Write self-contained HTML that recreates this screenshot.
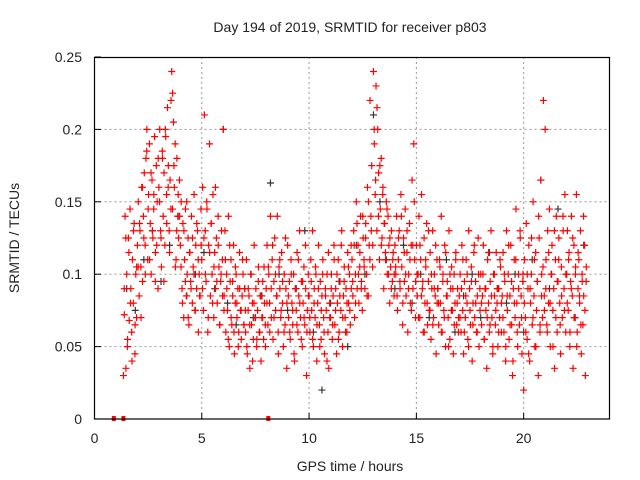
<!DOCTYPE html>
<html><head><meta charset="utf-8"><style>
body{margin:0;background:#fff;}
svg{display:block;font-family:"Liberation Sans",sans-serif;}
</style></head><body>
<svg id="chart" width="640" height="480">
<text x="350" y="32" font-size="14" text-anchor="middle" fill="#222">Day 194 of 2019, SRMTID for receiver p803</text>
<text x="350" y="471" font-size="14" text-anchor="middle" fill="#222">GPS time / hours</text>
<text transform="translate(19,238) rotate(-90)" font-size="14" text-anchor="middle" fill="#222">SRMTID / TECUs</text>
<g id="grid"></g><g id="ticks"></g><g id="marks"></g>
<rect x="94.5" y="57.5" width="515" height="361.5" fill="none" stroke="#000" stroke-width="1.2"/>
</svg>
<script>
const xTicks=[0,5,10,15,20];
const yTicks=[0,0.05,0.1,0.15,0.2,0.25];
const yTickLabels=["0","0.05","0.1","0.15","0.2","0.25"];
const redHours=[1.35,2,3,4,5,6,7,8,9,10,11,12,13,14,15,16,17,18,19,20,21,22];
const redVals=[
[.03,.072,.14,.035,.1,.055,.125,.068,.145,.09,.06,.11,.08,.135,.045,.1,.07],
[.12,.15,.085,.13,.105,.16,.095,.14,.17,.12,.18,.2,.11,.155,.19,.135,.1,.165,.125,.145,.195,.115,.175,.15,.09],
[.16,.2,.13,.105,.185,.14,.17,.12,.195,.155,.215,.175,.13,.165,.145,.24,.225,.205,.16,.19,.11,.18,.14,.125,.165],
[.12,.15,.09,.135,.07,.11,.145,.085,.1,.125,.065,.115,.095,.14,.08,.105,.155,.075,.12,.09,.13,.06,.1,.085,.145],
[.11,.16,.075,.21,.13,.095,.145,.06,.12,.19,.085,.135,.1,.155,.07,.115,.09,.125,.08,.14,.105,.065,.095,.13,.11],
[.2,.085,.13,.06,.1,.075,.14,.05,.095,.11,.065,.085,.12,.045,.08,.1,.07,.09,.06,.115,.075,.055,.085,.1,.065],
[.09,.06,.11,.045,.075,.085,.035,.1,.065,.08,.055,.12,.07,.09,.05,.075,.105,.06,.085,.04,.07,.095,.055,.08,.065],
[.09,.12,.065,.1,.08,.14,.07,.11,.055,.095,.125,.075,.085,.14,.06,.105,.09,.07,.115,.08,.05,.1,.065,.09,.035],
[.12,.07,.095,.055,.11,.08,.065,.1,.04,.09,.075,.115,.06,.085,.13,.07,.095,.05,.08,.105,.065,.09,.03,.075,.1],
[.085,.06,.11,.075,.13,.05,.09,.07,.1,.04,.08,.12,.065,.095,.055,.085,.11,.07,.045,.09,.075,.1,.06,.035,.08],
[.07,.1,.055,.085,.12,.065,.09,.045,.08,.11,.06,.095,.075,.13,.05,.085,.105,.07,.09,.06,.115,.08,.1,.065,.12],
[.11,.085,.13,.07,.1,.15,.09,.12,.08,.105,.14,.095,.075,.125,.11,.09,.135,.1,.16,.085,.12,.22,.14,.175,.105],
[.24,.19,.155,.23,.13,.2,.17,.11,.145,.18,.125,.16,.09,.135,.115,.15,.1,.14,.12,.08,.105,.13,.095,.115,.085],
[.12,.1,.14,.075,.11,.13,.09,.155,.105,.065,.125,.095,.145,.085,.115,.06,.1,.135,.08,.12,.165,.09,.19,.11,.07],
[.12,.085,.1,.14,.07,.11,.155,.09,.06,.125,.08,.105,.135,.065,.095,.075,.115,.055,.09,.13,.07,.1,.085,.045,.11],
[.09,.065,.11,.08,.14,.06,.1,.075,.12,.05,.085,.095,.07,.13,.055,.09,.105,.075,.045,.1,.08,.115,.065,.09,.06],
[.085,.1,.06,.12,.075,.045,.095,.07,.11,.08,.055,.13,.09,.065,.105,.04,.08,.115,.07,.095,.06,.085,.125,.05,.09],
[.1,.065,.085,.12,.055,.09,.075,.035,.11,.08,.06,.095,.13,.07,.045,.1,.085,.065,.115,.08,.05,.09,.07,.105,.06],
[.085,.115,.06,.095,.04,.13,.075,.1,.055,.085,.12,.065,.03,.09,.11,.07,.145,.08,.05,.1,.065,.125,.085,.045,.095],
[.02,.11,.07,.135,.055,.09,.12,.04,.08,.1,.065,.15,.085,.05,.115,.075,.095,.03,.125,.06,.165,.1,.07,.22,.085],
[.2,.11,.065,.13,.08,.145,.05,.1,.12,.075,.09,.035,.11,.14,.06,.095,.125,.08,.045,.105,.07,.13,.09,.155,.06],
[.1,.13,.075,.115,.05,.095,.14,.085,.035,.12,.07,.105,.155,.06,.09,.11,.08,.13,.045,.1,.065,.085,.12,.03,.095]
];
const redVals2=[
[.09,.125,.05,.115,.08,.04,.13,.065,.105],
[.105,.135,.07,.16,.125,.1,.185,.145,.11,.17,.13,.155,.095,.12,.18],
[.15,.125,.18,.095,.2,.135,.16,.115,.22,.145,.175,.105,.13,.155,.14],
[.105,.08,.13,.095,.15,.07,.115,.09,.125,.1,.075,.135,.11,.085,.12],
[.09,.125,.1,.15,.07,.115,.135,.08,.105,.16,.095,.12,.065,.1,.085],
[.075,.11,.09,.055,.12,.07,.095,.06,.105,.08,.05,.09,.075,.11,.065],
[.075,.05,.09,.065,.1,.04,.08,.07,.055,.095,.06,.085,.07,.105,.05],
[.08,.105,.06,.09,.12,.07,.1,.085,.045,.11,.075,.095,.06,.125,.08],
[.085,.06,.1,.075,.045,.09,.065,.11,.08,.055,.095,.07,.12,.06,.085],
[.07,.095,.055,.08,.105,.065,.09,.05,.075,.1,.06,.085,.04,.115,.07],
[.09,.065,.11,.075,.1,.055,.085,.12,.07,.095,.06,.08,.105,.075,.09],
[.095,.12,.08,.135,.1,.115,.09,.14,.105,.125,.085,.15,.11,.13,.12],
[.2,.165,.215,.14,.175,.12,.155,.135,.11,.145,.1,.125,.09,.11,.1],
[.105,.085,.125,.095,.14,.08,.115,.1,.13,.09,.11,.075,.12,.15,.095],
[.1,.07,.12,.085,.095,.06,.11,.08,.13,.075,.1,.065,.09,.12,.08],
[.08,.105,.06,.095,.07,.115,.085,.05,.1,.075,.09,.065,.11,.08,.07],
[.07,.09,.11,.06,.085,.1,.05,.075,.095,.065,.12,.08,.06,.1,.075],
[.08,.1,.055,.09,.07,.115,.065,.085,.05,.1,.075,.09,.06,.11,.08],
[.07,.1,.05,.085,.12,.065,.095,.04,.08,.11,.06,.09,.13,.07,.1],
[.08,.06,.1,.045,.09,.125,.07,.11,.05,.095,.14,.065,.085,.105,.075],
[.09,.06,.115,.08,.1,.05,.13,.07,.095,.11,.065,.085,.14,.075,.1],
[.08,.11,.06,.09,.125,.07,.1,.05,.115,.085,.065,.095,.14,.075,.105]
];
const blackT=[1.5,1.9,2.3,2.7,3.1,3.5,3.9,4.3,4.7,5.1,5.6,6.0,6.2,6.6,7.0,7.4,7.8,8.2,8.6,9.0,9.4,9.8,10.2,10.6,11.0,11.4,11.8,12.2,12.6,13.0,13.3,13.6,14.0,14.4,14.8,15.2,15.6,16.0,16.4,16.8,17.2,17.6,18.0,18.4,18.8,19.2,19.6,20.0,20.4,20.8,21.2,21.6,22.0,22.4,22.8];
const blackV=[.09,.075,.11,.13,.095,.12,.14,.085,.1,.115,.09,.2,.08,.065,.09,.07,.085,.163,.1,.075,.09,.13,.06,.02,.08,.095,.05,.12,.1,.21,.15,.11,.09,.12,.08,.1,.07,.09,.11,.06,.085,.1,.07,.115,.09,.08,.1,.06,.11,.165,.09,.145,.1,.07,.12];
const zeroT=[0.9,1.35,8.1];

const NS="http://www.w3.org/2000/svg";
const X=t=>94.5+t*(515/24);
const Y=v=>419-v*(362/0.25);
const grid=document.getElementById('grid'),ticks=document.getElementById('ticks'),marks=document.getElementById('marks');
function mk(tag,attrs,parent){const e=document.createElementNS(NS,tag);for(const k in attrs)e.setAttribute(k,attrs[k]);parent.appendChild(e);return e;}
xTicks.forEach(t=>{
  if(t>0){const g=mk('line',{x1:X(t),x2:X(t),y1:57,y2:419,stroke:'#999','stroke-dasharray':'2,3'},grid);
  
  }
  mk('line',{x1:X(t),x2:X(t),y1:419,y2:413,stroke:'#000'},ticks);
  const l=mk('text',{x:X(t),y:443,'font-size':14,'text-anchor':'middle',fill:'#222'},ticks);l.textContent=t;
  
  
});
yTicks.forEach((v,i)=>{
  if(v>0&&v<0.25){const g=mk('line',{x1:94.5,x2:609.5,y1:Y(v),y2:Y(v),stroke:'#999','stroke-dasharray':'2,3'},grid);
  
  }
  mk('line',{x1:94.5,x2:101,y1:Y(v),y2:Y(v),stroke:'#000'},ticks);
  const l=mk('text',{x:82,y:Y(v)+5,'font-size':14,'text-anchor':'end',fill:'#222'},ticks);l.textContent=yTickLabels[i];
  
  
});
function plus(t,v,c,name){
  const x=X(t),y=Y(v);
  const p=mk('path',{d:`M${x-3.5},${y}H${x+3.5}M${x},${y-3.5}V${y+3.5}`,stroke:c,'stroke-width':1.2,fill:'none'},marks);
  
  
}
blackT.forEach((t,i)=>plus(t,blackV[i],'#333','black-point'));
function drawRed(valsSet,offset){
  redHours.forEach((h,j)=>{
    const vals=valsSet[j];const span=(j+1<redHours.length?redHours[j+1]:22.95)-h;
    vals.forEach((v,i)=>plus(h+span*(i+offset)/vals.length,v,'#f00','red-point'));
  });
}
drawRed(redVals,0);
drawRed(redVals2,0.5);
zeroT.forEach(t=>{
  const r=mk('rect',{x:X(t)-2,y:416,width:4,height:5,fill:'#f00'},marks);
  
  
});
</script>
</body></html>
